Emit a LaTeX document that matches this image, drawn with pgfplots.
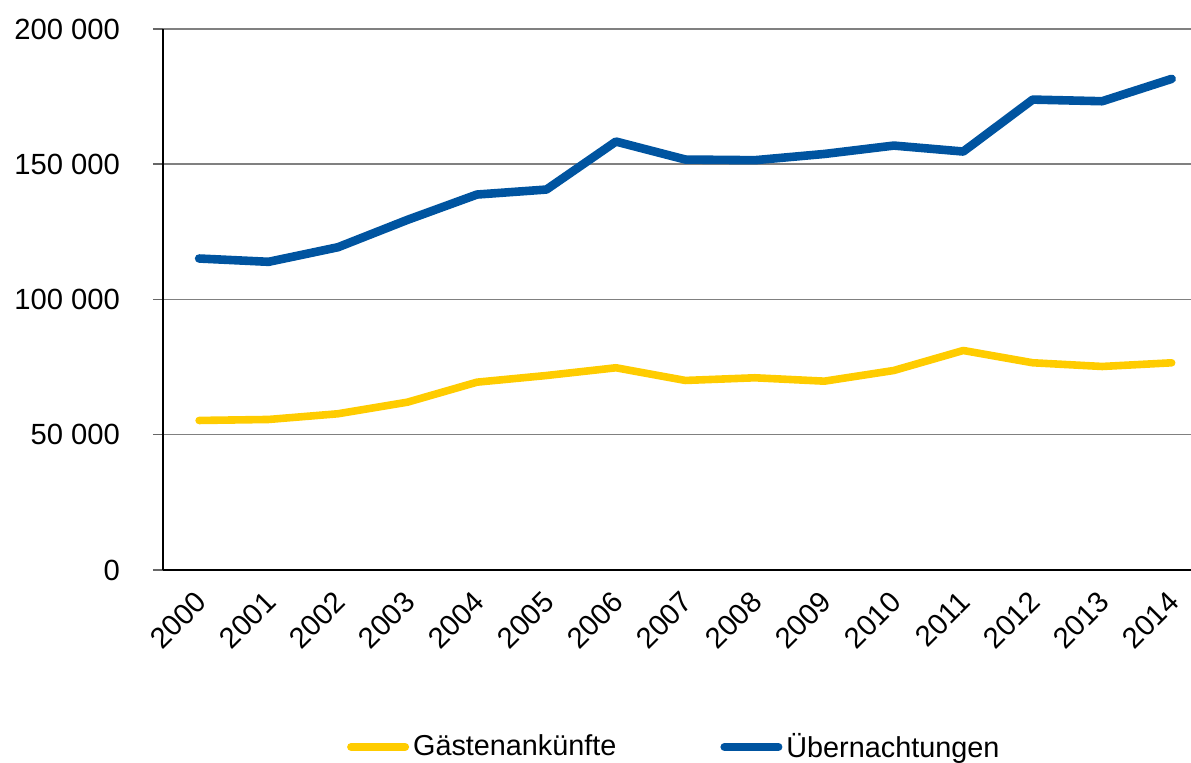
\documentclass[border=0pt]{standalone}
\usepackage{fontspec}
\setmainfont{Liberation Sans}
\usepackage{pgfplots}
\pgfplotsset{compat=1.18}
\definecolor{cblue}{RGB}{0,84,160}
\definecolor{cyellow}{RGB}{255,204,0}
\begin{document}
\begin{tikzpicture}
\path[use as bounding box] (0,0) rectangle (595.5bp,381.5bp);
\begin{axis}[
  at={(81.5bp,96.5bp)}, anchor=south west,
  scale only axis, width=521bp, height=270.5bp,
  xmin=-0.52, xmax=14.48, ymin=0, ymax=200000,
  axis x line*=bottom, axis y line*=left,
  axis line style={black, line width=0.75bp},
  xtick={0,1,2,3,4,5,6,7,8,9,10,11,12,13,14},
  xticklabels={2000,2001,2002,2003,2004,2005,2006,2007,2008,2009,2010,2011,2012,2013,2014},
  x tick style={draw=none},
  ytick={0,50000,100000,150000,200000},
  ymajorgrids, grid style={color=black!50, line width=0.75bp},
  y tick style={color=black!60, line width=0.75bp},
  tick align=outside, major tick length=5bp,
  scaled y ticks=false,
  /pgf/number format/fixed,
  /pgf/number format/1000 sep={\ },
  /pgf/number format/assume math mode=true,
  ticklabel style={font=\fontsize{14.6bp}{17bp}\selectfont},
  yticklabel style={xshift=-13bp},
  xticklabel style={rotate=45, anchor=east, xshift=-1.8bp, yshift=-6.7bp},
  legend style={at={(0.4916,-0.327)}, anchor=center, draw=none, legend columns=2,
    font=\fontsize{14.4bp}{17bp}\selectfont,
    /tikz/every even column/.append style={column sep=50bp}},
  legend cell align=left,
  legend image code/.code={\draw[#1, line width=4bp] (0bp,0bp) -- (27bp,0bp);},
]
\addplot[cyellow, line width=3.8bp, line join=round, line cap=round] coordinates {
(0,55280) (1,55650) (2,57760) (3,62050) (4,69440) (5,71900) (6,74760) (7,70070)
(8,71060) (9,69810) (10,73760) (11,81150) (12,76610) (13,75240) (14,76600)};
\addlegendentry{Gästenankünfte}
\addplot[cblue, line width=4.3bp, line join=round, line cap=round] coordinates {
(0,115150) (1,113930) (2,119330) (3,129450) (4,138800) (5,140650) (6,158390) (7,151740)
(8,151500) (9,153800) (10,156900) (11,154700) (12,173900) (13,173300) (14,181560)};
\addlegendentry{Übernachtungen}
\end{axis}
\end{tikzpicture}
\end{document}
